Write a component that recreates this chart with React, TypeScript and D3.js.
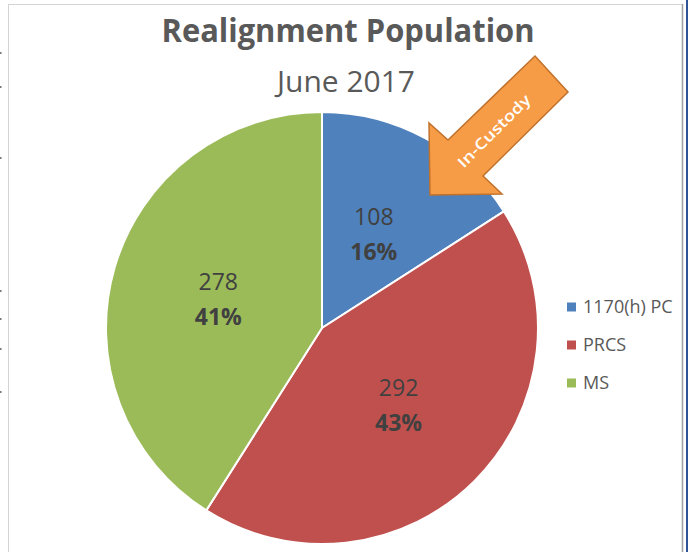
import * as d3 from 'd3'
import { useEffect, useRef } from 'react'

const categories = ['1170(h) PC', 'PRCS', 'MS']
const values = [108, 292, 278]
const colors = ['#4F81BD', '#C0504D', '#9BBB59']
const leftMarks = [52, 86, 157, 290, 318, 348, 391]

const W = 689
const H = 552

const App = () => {
    const ref = useRef<SVGSVGElement>(null)

    useEffect(() => {
        const svg = d3.select(ref.current)
        svg.selectAll('*').remove()

        const font = '"Open Sans", "Noto Sans", sans-serif'

        // frame
        svg.append('rect').attr('width', W).attr('height', H).attr('fill', '#fff')
        svg.append('rect')
            .attr('x', 8.5).attr('y', 4.5).attr('width', 674).attr('height', 560)
            .attr('fill', '#fff').attr('stroke', '#d4d4d4')
        svg.append('line')
            .attr('x1', 682.5).attr('x2', 682.5).attr('y1', 4).attr('y2', H)
            .attr('stroke', '#a0a0a0').attr('stroke-width', 1.5)
        svg.append('line')
            .attr('x1', 687).attr('x2', 687).attr('y1', 0).attr('y2', H)
            .attr('stroke', '#2f5597').attr('stroke-width', 2)
        svg.selectAll('.mark')
            .data(leftMarks)
            .join('rect')
            .attr('x', 0).attr('y', d => d).attr('width', 1.5).attr('height', 2)
            .attr('fill', '#777')

        // titles
        svg.append('text')
            .attr('x', 348).attr('y', 42)
            .attr('text-anchor', 'middle')
            .attr('font-family', font).attr('font-weight', 'bold').attr('font-size', 32)
            .attr('fill', '#595959')
            .attr('textLength', 373).attr('lengthAdjust', 'spacingAndGlyphs')
            .text('Realignment Population')
        svg.append('text')
            .attr('x', 346).attr('y', 92)
            .attr('text-anchor', 'middle')
            .attr('font-family', font).attr('font-size', 29)
            .attr('fill', '#595959')
            .attr('textLength', 138).attr('lengthAdjust', 'spacingAndGlyphs')
            .text('June 2017')

        // pie
        const cx = 322, cy = 328, r = 216
        const total = d3.sum(values)
        const pie = d3.pie<number>().sort(null).value(d => d)
        const arcs = pie(values)
        const arc = d3.arc<d3.PieArcDatum<number>>().innerRadius(0).outerRadius(r)
        const labelArc = d3.arc<d3.PieArcDatum<number>>().innerRadius(r * 0.5).outerRadius(r * 0.5)

        const g = svg.append('g').attr('transform', `translate(${cx},${cy})`)
        g.selectAll('path')
            .data(arcs)
            .join('path')
            .attr('d', arc)
            .attr('fill', (d, i) => colors[i])
            .attr('stroke', '#fff')
            .attr('stroke-width', 2)

        const labels = g.selectAll('g.lbl')
            .data(arcs)
            .join('g')
            .attr('class', 'lbl')
            .attr('transform', d => {
                const [x, y] = labelArc.centroid(d)
                return `translate(${x},${y})`
            })
        labels.append('text')
            .attr('text-anchor', 'middle')
            .attr('y', -8)
            .attr('font-family', font).attr('font-size', 23)
            .attr('fill', '#404040')
            .text(d => d.data)
        labels.append('text')
            .attr('text-anchor', 'middle')
            .attr('y', 27)
            .attr('font-family', font).attr('font-size', 23).attr('font-weight', 'bold')
            .attr('fill', '#404040')
            .text(d => `${Math.round(d.data / total * 100)}%`)

        // arrow annotation
        const arrow = [
            [430, 195], [429, 123], [448, 140], [535, 56],
            [568, 92], [483, 176], [502, 194]
        ]
        svg.append('path')
            .attr('d', d3.line()(arrow as [number, number][]) + 'Z')
            .attr('fill', '#F79C46')
            .attr('stroke', '#C0712C')
            .attr('stroke-width', 1.5)
            .attr('stroke-linejoin', 'miter')
        svg.append('text')
            .attr('transform', 'translate(494,131) rotate(-45)')
            .attr('text-anchor', 'middle')
            .attr('dy', '0.35em')
            .attr('font-family', font).attr('font-size', 15).attr('font-weight', 600)
            .attr('fill', '#fff')
            .attr('textLength', 96).attr('lengthAdjust', 'spacingAndGlyphs')
            .text('In-Custody')

        // legend
        const legend = svg.selectAll('g.leg')
            .data(categories)
            .join('g')
            .attr('class', 'leg')
            .attr('transform', (d, i) => `translate(567,${307 + i * 38})`)
        legend.append('rect')
            .attr('x', 0).attr('y', -4.5).attr('width', 9).attr('height', 9)
            .attr('fill', (d, i) => colors[i])
        legend.append('text')
            .attr('x', 16).attr('dy', '0.35em')
            .attr('font-family', font).attr('font-size', 18)
            .attr('fill', '#595959')
            .text(d => d)
    }, [])

    return (
        <div style={{ position: 'fixed', left: 0, top: 0 }}>
            <svg ref={ref} width={W} height={H} style={{ display: 'block' }} />
        </div>
    )
}

export default App
